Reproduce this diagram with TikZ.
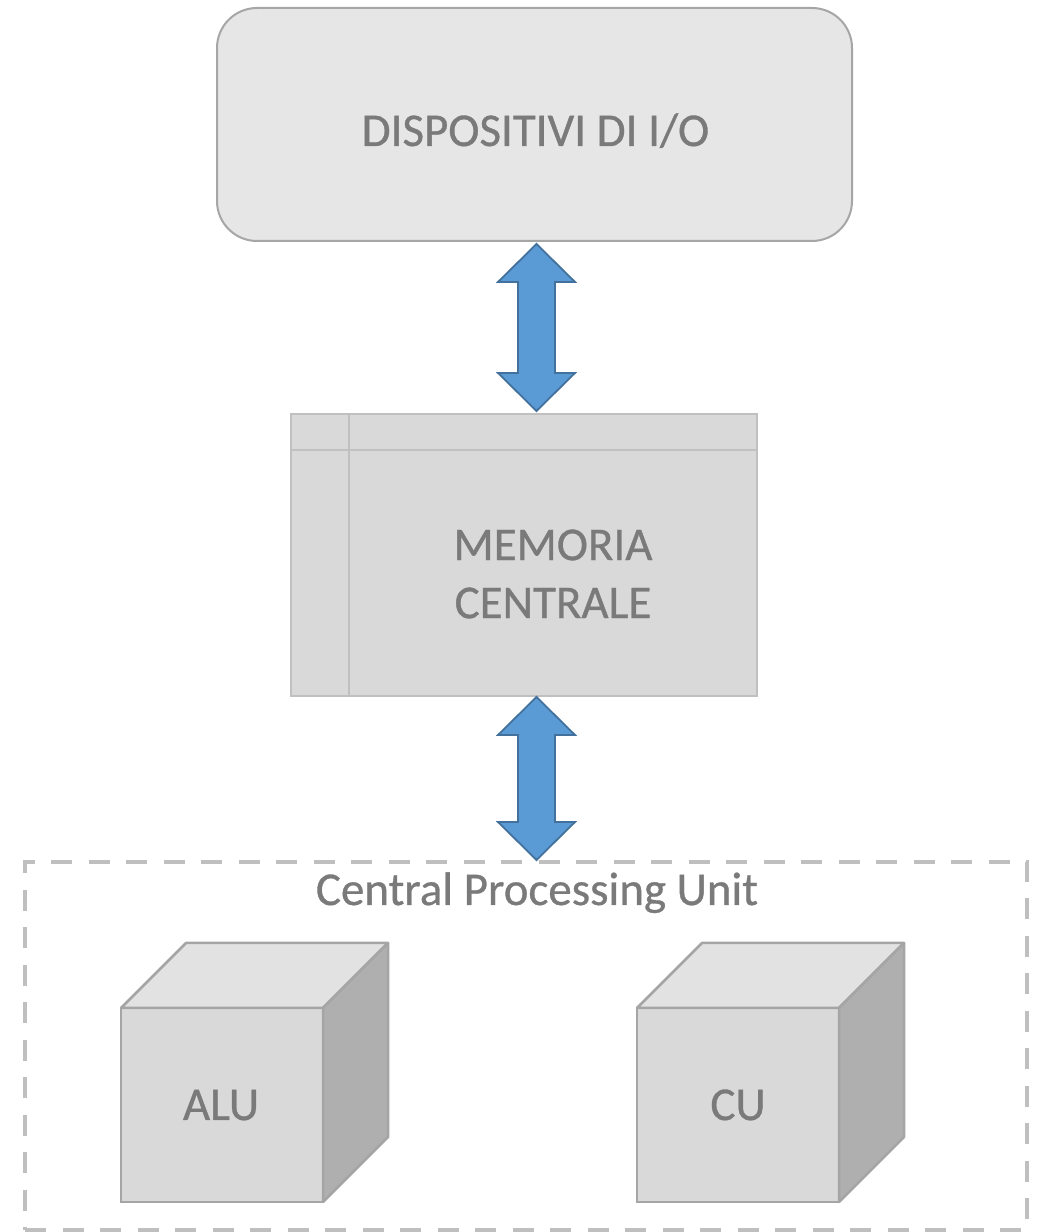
\documentclass[tikz,border=0pt]{standalone}
\usepackage{fontspec}
\setmainfont{Carlito}
\newfontfamily\lblfont[FakeBold=0.7]{Carlito}
\usetikzlibrary{calc}
\definecolor{txtgray}{HTML}{7A7A7A}
\definecolor{iofill}{HTML}{E6E6E6}
\definecolor{ioline}{HTML}{A6A6A6}
\definecolor{memfill}{HTML}{D9D9D9}
\definecolor{memline}{HTML}{C0C0C0}
\definecolor{cubefront}{HTML}{D9D9D9}
\definecolor{cubetop}{HTML}{E2E2E2}
\definecolor{cuberight}{HTML}{AFAFAF}
\definecolor{cubeline}{HTML}{A5A5A5}
\definecolor{arrowfill}{HTML}{5B9BD5}
\definecolor{arrowline}{HTML}{41719C}
\definecolor{cpuline}{HTML}{BFBFBF}
\newcommand{\dblblockarrow}[2]{%
  \filldraw[blockarrow] let \p1=(#1), \p2=(#2) in
    (\x1,\y1) -- (\x1+38.5pt,\y1-38pt) -- (\x1+18.5pt,\y1-38pt)
    -- (\x1+18.5pt,\y2+38pt) -- (\x1+38.5pt,\y2+38pt) -- (\x1,\y2)
    -- (\x1-38.5pt,\y2+38pt) -- (\x1-18.5pt,\y2+38pt)
    -- (\x1-18.5pt,\y1-38pt) -- (\x1-38.5pt,\y1-38pt) -- cycle;}
\begin{document}
\begin{tikzpicture}[x=1pt,y=1pt,
  lbl/.style={text=txtgray,font=\lblfont\fontsize{47}{58}\selectfont,inner sep=0pt,outer sep=0pt},
  iobox/.style={draw=ioline,fill=iofill,line width=2pt,rounded corners=40pt,
    minimum width=635pt,minimum height=233pt,inner sep=0pt,outer sep=0pt},
  membox/.style={draw=memline,fill=memfill,line width=2.5pt,
    minimum width=466pt,minimum height=282pt,inner sep=0pt,outer sep=0pt},
  memline/.style={draw=memline,line width=2.5pt},
  cubebox/.style={draw=cubeline,fill=cubefront,line width=2.5pt,
    minimum width=202pt,minimum height=194pt,inner sep=0pt,outer sep=0pt},
  cubetopface/.style={draw=cubeline,fill=cubetop,line width=2.5pt,line join=round},
  cuberightface/.style={draw=cubeline,fill=cuberight,line width=2.5pt,line join=round},
  cpubox/.style={draw=cpuline,line width=4pt,dash pattern=on 21pt off 16.5pt,
    minimum width=1002pt,minimum height=368pt,inner sep=0pt,outer sep=0pt},
  blockarrow/.style={fill=arrowfill,draw=arrowline,line width=1.8pt,line join=miter}
]
\useasboundingbox (0,0) rectangle (1040,1232);

% I/O devices
\node[iobox] (io) at (534.5,1107.5) {};
\node[lbl,anchor=base] (iotext) at (535.5,1086) {DISPOSITIVI DI I/O};

% central memory
\node[membox] (mem) at (524,677) {};
\draw[memline] ($(mem.north west)+(0,-36)$) -- ($(mem.north east)+(0,-36)$);
\draw[memline] ($(mem.north west)+(58,0)$) -- ($(mem.south west)+(58,0)$);
\node[lbl,align=center] (memtext) at (553,658) {MEMORIA\\CENTRALE};

% CPU container
\node[cpubox] (cpu) at (526,186) {};
\node[lbl,anchor=base] (cputext) at (537,327) {Central Processing Unit};

% ALU cube
\node[cubebox] (alu) at (222,127) {};
\filldraw[cubetopface] (alu.north west) -- ($(alu.north west)+(65,65)$)
  -- ($(alu.north east)+(65,65)$) -- (alu.north east) -- cycle;
\filldraw[cuberightface] (alu.north east) -- ($(alu.north east)+(65,65)$)
  -- ($(alu.south east)+(65,65)$) -- (alu.south east) -- cycle;
\node[lbl,anchor=base] (alutext) at (221,112) {ALU};

% CU cube
\node[cubebox] (cu) at (738,127) {};
\filldraw[cubetopface] (cu.north west) -- ($(cu.north west)+(65,65)$)
  -- ($(cu.north east)+(65,65)$) -- (cu.north east) -- cycle;
\filldraw[cuberightface] (cu.north east) -- ($(cu.north east)+(65,65)$)
  -- ($(cu.south east)+(65,65)$) -- (cu.south east) -- cycle;
\node[lbl,anchor=base] (cutext) at (738,112) {CU};

% block arrows
\coordinate (a1top) at ($(io.south)+(2,-3)$);
\coordinate (a1bot) at ($(mem.north)+(12.5,3)$);
\coordinate (a2top) at ($(mem.south)+(12.5,-1)$);
\coordinate (a2bot) at ($(cpu.north)+(10.5,2)$);
\dblblockarrow{a1top}{a1bot}
\dblblockarrow{a2top}{a2bot}
\end{tikzpicture}
\end{document}
